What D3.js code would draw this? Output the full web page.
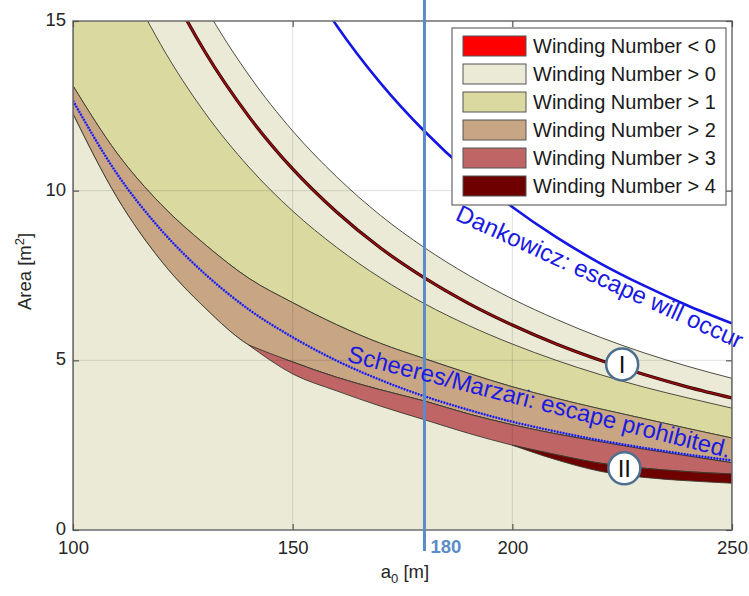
<!DOCTYPE html>
<html>
<head>
  <script src="https://d3js.org/d3.v7.min.js"></script>
  <style>
    body { margin: 0; background: #fff; }
    text { font-family: "Liberation Sans", Arial, sans-serif; }
  </style>
</head>
<body>
  <div id="chart"></div>
  <script>
    // semi-major axis samples [m]
    var a0 = [100, 110, 120, 130, 140, 150, 160, 170, 180, 190, 200, 210, 220, 230, 240, 250];

    // boundary curves of the winding number regions, area [m^2]
    var outerEdge  = [25.4, 21.2, 17.97, 15.44, 13.41, 11.76, 10.41, 9.27, 8.32, 7.51, 6.81, 6.21, 5.68, 5.22, 4.82, 4.47];
    var redLine    = [23.65, 19.6, 16.51, 14.1, 12.19, 10.64, 9.37, 8.31, 7.43, 6.68, 6.04, 5.48, 5.0, 4.58, 4.21, 3.89];
    var oliveTop   = [20.15, 16.84, 14.3, 12.3, 10.7, 9.4, 8.33, 7.43, 6.67, 6.03, 5.48, 5.0, 4.58, 4.21, 3.89, 3.59];
    var tanTop     = [13.09, 11.11, 9.6, 8.42, 7.42, 6.7, 6.05, 5.5, 5.05, 4.62, 4.22, 3.88, 3.57, 3.28, 2.99, 2.71];
    var tanBottom  = [12.26, 9.8, 7.94, 6.55, 5.45, 4.95, 4.5, 4.13, 3.8, 3.42, 3.1, 2.83, 2.6, 2.38, 2.18, 1.98];
    var pinkBottom = [null, null, null, null, 5.45, 4.6, 4.1, 3.65, 3.25, 2.85, 2.5, 2.22, 1.97, 1.82, 1.72, 1.65];
    var darkBottom = [null, null, null, null, null, null, null, null, null, null, 2.5, 2.07, 1.73, 1.55, 1.45, 1.38];

    // escape criteria
    var scheeres   = [12.65, 10.5, 8.85, 7.55, 6.5, 5.68, 4.99, 4.42, 3.94, 3.54, 3.19, 2.9, 2.64, 2.42, 2.22, 2.05];
    var dankA0     = [150, 160, 170, 180, 190, 200, 210, 220, 230, 240, 250];
    var dankowicz  = [16.92, 14.87, 13.17, 11.75, 10.54, 9.52, 8.63, 7.86, 7.2, 6.61, 6.09];

    var legendLabels = ["Winding Number < 0", "Winding Number > 0", "Winding Number > 1",
                        "Winding Number > 2", "Winding Number > 3", "Winding Number > 4"];
    var legendColors = ["#ff0000", "#ebead6", "#dad99f", "#c8a583", "#bf6565", "#6e0000"];

    var xTicks = [100, 150, 200, 250];
    var yTicks = [0, 5, 10, 15];
    var marker = 180;

    var W = 749, H = 596;
    var margin = { top: 21, right: 17, bottom: 66, left: 73 };

    var svg = d3.select("#chart").append("svg")
                .attr("width", W)
                .attr("height", H);

    var x = d3.scaleLinear().domain([100, 250]).range([margin.left, W - margin.right]);
    var y = d3.scaleLinear().domain([0, 15]).range([H - margin.bottom, margin.top]);

    svg.append("clipPath").attr("id", "plotclip")
       .append("rect")
       .attr("x", x(100)).attr("y", y(15))
       .attr("width", x(250) - x(100)).attr("height", y(0) - y(15));

    var rows = a0.map(function(a, i) {
      return { a: a, outer: outerEdge[i], red: redLine[i], olive: oliveTop[i], tan: tanTop[i],
               tanB: tanBottom[i], pinkB: pinkBottom[i], darkB: darkBottom[i], sch: scheeres[i] };
    });

    var plot = svg.append("g").attr("clip-path", "url(#plotclip)");

    plot.append("rect")
        .attr("x", x(100)).attr("y", y(15))
        .attr("width", x(250) - x(100)).attr("height", y(0) - y(15))
        .attr("fill", "#ffffff");

    var curve = d3.curveMonotoneX;

    function band(top, bottom, color, defined) {
      var area = d3.area()
                   .curve(curve)
                   .x(d => x(d.a))
                   .y1(d => y(top(d)))
                   .y0(d => y(bottom(d)));
      if (defined) area.defined(defined);
      plot.append("path")
          .datum(rows)
          .attr("fill", color)
          .attr("stroke", "#3a3a30")
          .attr("stroke-width", 0.9)
          .attr("d", area);
    }

    // light region below the outer edge
    band(d => d.outer, d => -1, legendColors[1]);
    // olive
    band(d => d.olive, d => d.tan, legendColors[2]);
    // tan
    band(d => d.tan, d => d.tanB, legendColors[3]);
    // light region below the tan band again
    band(d => d.tanB, d => -1, legendColors[1]);
    // winding > 3
    band(d => d.tanB, d => d.pinkB, legendColors[4], d => d.pinkB != null);
    // winding > 4
    band(d => d.pinkB, d => d.darkB, legendColors[5], d => d.darkB != null);

    // thin dark red curve inside top band
    var redPath = d3.line().curve(curve).x(d => x(d.a)).y(d => y(d.red));
    plot.append("path")
        .datum(rows)
        .attr("fill", "none")
        .attr("stroke", "#2a0000")
        .attr("stroke-width", 3.2)
        .attr("d", redPath);
    plot.append("path")
        .datum(rows)
        .attr("fill", "none")
        .attr("stroke", "#900f0f")
        .attr("stroke-width", 1.8)
        .attr("d", redPath);

    // grid
    var grid = plot.append("g").attr("stroke", "#000").attr("stroke-opacity", 0.12);
    [150, 200].forEach(function(v) {
      grid.append("line").attr("x1", x(v)).attr("x2", x(v)).attr("y1", y(0)).attr("y2", y(15));
    });
    [5, 10].forEach(function(v) {
      grid.append("line").attr("x1", x(100)).attr("x2", x(250)).attr("y1", y(v)).attr("y2", y(v));
    });

    // Scheeres / Marzari line (dotted)
    var schPath = d3.line().curve(curve).x(d => x(d.a)).y(d => y(d.sch));
    plot.append("path")
        .datum(rows)
        .attr("fill", "none")
        .attr("stroke", "#6a6af0")
        .attr("stroke-width", 1.2)
        .attr("d", schPath);
    plot.append("path")
        .datum(rows)
        .attr("fill", "none")
        .attr("stroke", "#1a1adf")
        .attr("stroke-width", 2.4)
        .attr("stroke-dasharray", "1.6,1.4")
        .attr("d", schPath);

    // Dankowicz line
    var dank = dankA0.map((a, i) => ({ a: a, v: dankowicz[i] }));
    plot.append("path")
        .datum(dank)
        .attr("fill", "none")
        .attr("stroke", "#1515e6")
        .attr("stroke-width", 2.6)
        .attr("d", d3.line().curve(curve).x(d => x(d.a)).y(d => y(d.v)));

    // plot box
    svg.append("rect")
       .attr("x", x(100)).attr("y", y(15))
       .attr("width", x(250) - x(100)).attr("height", y(0) - y(15))
       .attr("fill", "none")
       .attr("stroke", "#6e6e6e")
       .attr("stroke-width", 1.5);

    // axes with inward ticks
    function styleAxis(g) {
      g.select(".domain").remove();
      g.selectAll(".tick line").attr("stroke", "#555").attr("stroke-width", 1.2);
      g.selectAll(".tick text")
       .attr("fill", "#262626")
       .style("font-size", "18.5px")
       .style("font-family", "'Liberation Sans', Arial, sans-serif");
    }

    svg.append("g")
       .attr("transform", `translate(0, ${y(0)})`)
       .call(d3.axisBottom(x).tickValues(xTicks).tickSize(-6).tickPadding(11).tickFormat(d3.format("d")))
       .call(styleAxis);
    svg.append("g")
       .attr("transform", `translate(0, ${y(15)})`)
       .call(d3.axisTop(x).tickValues(xTicks).tickSize(-6).tickFormat(""))
       .call(styleAxis);
    svg.append("g")
       .attr("transform", `translate(${x(100)}, 0)`)
       .call(d3.axisLeft(y).tickValues(yTicks).tickSize(-6).tickPadding(7))
       .call(styleAxis)
       .selectAll(".tick text").attr("dy", "0.25em");
    svg.append("g")
       .attr("transform", `translate(${x(250)}, 0)`)
       .call(d3.axisRight(y).tickValues(yTicks).tickSize(-6).tickFormat(""))
       .call(styleAxis);

    // marker at a0 = 180
    svg.append("line")
       .attr("x1", x(marker)).attr("x2", x(marker))
       .attr("y1", 0).attr("y2", y(0) + 21)
       .attr("stroke", "#5b8cc8")
       .attr("stroke-width", 3);
    svg.append("text")
       .attr("x", x(marker) + 6)
       .attr("y", y(0) + 23)
       .attr("fill", "#5b8cc8")
       .style("font-size", "18.5px")
       .style("font-weight", "bold")
       .text(marker);

    // axis labels
    var xl = svg.append("text")
       .attr("x", 405)
       .attr("y", 578)
       .attr("text-anchor", "middle")
       .attr("fill", "#262626")
       .style("font-size", "18.5px");
    xl.append("tspan").text("a");
    xl.append("tspan").attr("dy", 5).style("font-size", "13px").text("0");
    xl.append("tspan").attr("dy", -5).text(" [m]");

    var yl = svg.append("text")
       .attr("transform", `translate(31, ${(y(0) + y(15)) / 2 - 4}) rotate(-90)`)
       .attr("text-anchor", "middle")
       .attr("fill", "#262626")
       .style("font-size", "18.5px");
    yl.append("tspan").text("Area [m");
    yl.append("tspan").attr("dy", -7).style("font-size", "13px").text("2");
    yl.append("tspan").attr("dy", 7).text("]");

    // annotations
    svg.append("text")
       .attr("transform", `translate(${x(186.8)}, ${y(9.15)}) rotate(24.5)`)
       .attr("fill", "#1a1ae0")
       .style("font-size", "24px")
       .text("Dankowicz: escape will occur");
    svg.append("text")
       .attr("transform", `translate(${x(162.2)}, ${y(4.97)}) rotate(14.2)`)
       .attr("fill", "#1a1ae0")
       .style("font-size", "23.8px")
       .text("Scheeres/Marzari: escape prohibited.");

    var callouts = [{ a: 225, v: 4.88, t: "I" }, { a: 225.5, v: 1.82, t: "II" }];
    var cg = svg.selectAll("g.callout")
                .data(callouts)
                .enter()
                .append("g")
                .attr("class", "callout")
                .attr("transform", d => `translate(${x(d.a)}, ${y(d.v)})`);
    cg.append("circle")
      .attr("r", 16)
      .attr("fill", "#ffffff")
      .attr("stroke", "#4d6f8f")
      .attr("stroke-width", 2.5);
    cg.append("text")
      .attr("text-anchor", "middle")
      .attr("dy", "0.36em")
      .attr("fill", "#111")
      .style("font-size", "24px")
      .text(d => d.t);

    // legend
    var lg = svg.append("g").attr("transform", "translate(452, 28)");
    lg.append("rect")
      .attr("width", 274)
      .attr("height", 177)
      .attr("fill", "#ffffff")
      .attr("stroke", "#666")
      .attr("stroke-width", 1.2);
    var items = lg.selectAll("g.item")
                  .data(legendLabels)
                  .enter()
                  .append("g")
                  .attr("class", "item")
                  .attr("transform", (d, i) => `translate(11, ${8 + i * 28})`);
    items.append("rect")
         .attr("width", 63)
         .attr("height", 20)
         .attr("fill", (d, i) => legendColors[i])
         .attr("stroke", "#555")
         .attr("stroke-width", 1);
    items.append("text")
         .attr("x", 70)
         .attr("y", 17)
         .attr("fill", "#1a1a1a")
         .style("font-size", "20px")
         .text(d => d);
  </script>
</body>
</html>
